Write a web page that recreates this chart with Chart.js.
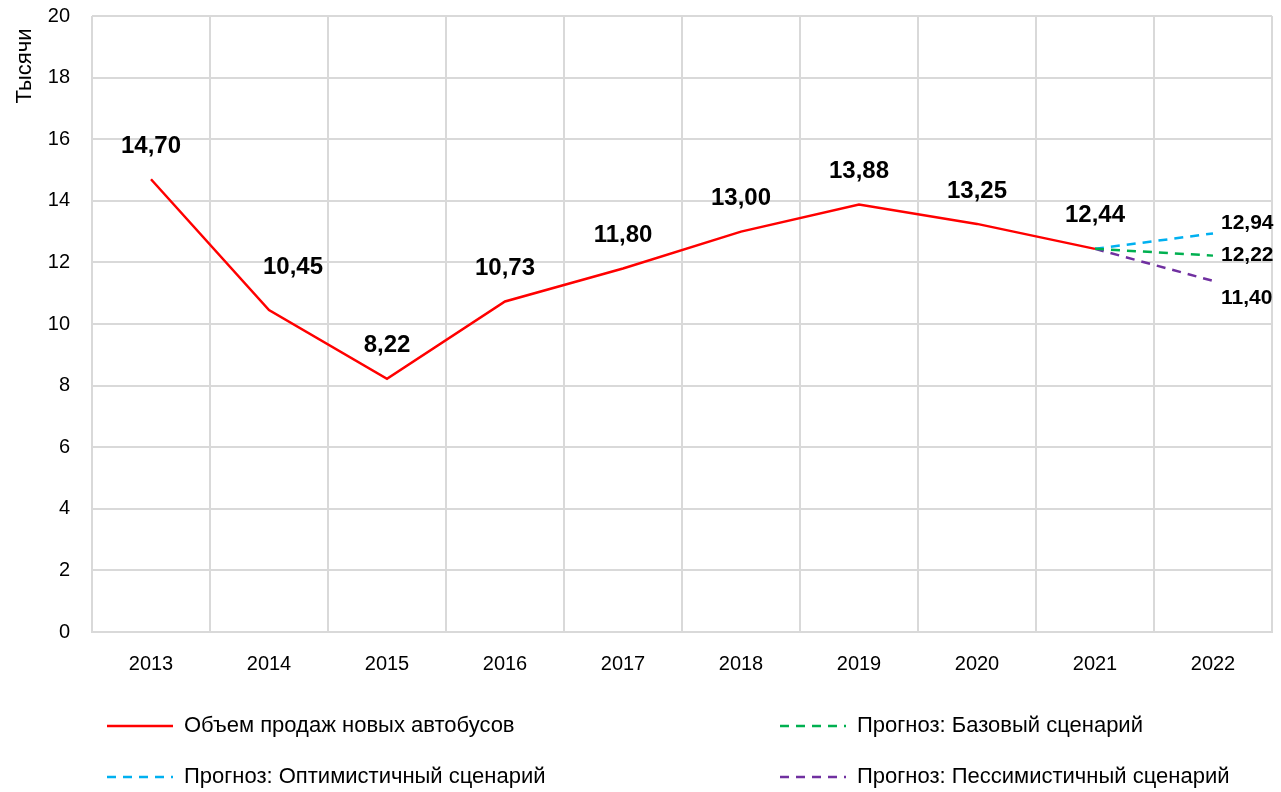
<!DOCTYPE html>
<html>
<head>
<meta charset="utf-8">
<script src="https://cdn.jsdelivr.net/npm/chart.js@4"></script>
<style>
  html, body { margin: 0; padding: 0; background: #fff; }
  #wrap { width: 1281px; height: 792px; }
</style>
</head>
<body>
<div id="wrap"><canvas id="mychart" width="1281" height="792"></canvas></div>
<script>
// data
var years = ['2013', '2014', '2015', '2016', '2017', '2018', '2019', '2020', '2021', '2022'];
var sales = [14.70, 10.45, 8.22, 10.73, 11.80, 13.00, 13.88, 13.25, 12.44, null];
var baseCase = [null, null, null, null, null, null, null, null, 12.44, 12.22];
var optimistic = [null, null, null, null, null, null, null, null, 12.44, 12.94];
var pessimistic = [null, null, null, null, null, null, null, null, 12.44, 11.40];
var yTicks = [0, 2, 4, 6, 8, 10, 12, 14, 16, 18, 20];

var krasny = '#ff0000';
var zeleny = '#00b050';
var goluboy = '#00b0f0';
var fiolet = '#7030a0';
var setka = '#d9d9d9';
var font = '"Liberation Sans", Arial, sans-serif';

function fmt(v) {
  return v.toFixed(2).replace('.', ',');
}

// labels + legend + axis title drawn on top
var extras = {
  id: 'extras',
  afterDatasetsDraw: function (chart) {
    var c = chart.ctx;
    c.save();
    c.fillStyle = '#000';
    c.textAlign = 'center';
    c.textBaseline = 'middle';

    // main series labels
    c.font = 'bold 24px ' + font;
    var m0 = chart.getDatasetMeta(0);
    m0.data.forEach(function (pt, i) {
      if (sales[i] == null) return;
      var dx = 0, dy = -33;
      if (i == 1) { dx = 24; dy = -43; }
      c.fillText(fmt(sales[i]), pt.x + dx, pt.y + dy);
    });

    // forecast labels
    c.font = 'bold 21px ' + font;
    c.textAlign = 'left';
    var last = years.length - 1;
    var fc = [[2, optimistic, -10], [1, baseCase, 0], [3, pessimistic, 17]];
    fc.forEach(function (f) {
      var pt = chart.getDatasetMeta(f[0]).data[last];
      c.fillText(fmt(f[1][last]), pt.x + 8, pt.y + f[2]);
    });

    // y title
    c.save();
    c.translate(25, 66);
    c.rotate(-Math.PI / 2);
    c.textAlign = 'center';
    c.font = '22px ' + font;
    c.fillText('Тысячи', 0, 0);
    c.restore();

    // legend
    var items = [
      [0, 107, 726], [1, 780, 726],
      [2, 107, 777], [3, 780, 777]
    ];
    c.font = '22px ' + font;
    c.textAlign = 'left';
    items.forEach(function (it) {
      var ds = chart.data.datasets[it[0]];
      c.beginPath();
      c.strokeStyle = ds.borderColor;
      c.lineWidth = 2.5;
      c.setLineDash(ds.borderDash || []);
      c.moveTo(it[1], it[2]);
      c.lineTo(it[1] + 66, it[2]);
      c.stroke();
      c.setLineDash([]);
      c.fillText(ds.label, it[1] + 77, it[2]);
    });
    c.restore();
  }
};

var ctx = document.getElementById('mychart').getContext('2d');
var myChart = new Chart(ctx, {
  type: 'line',
  data: {
    labels: years,
    datasets: [{
      label: 'Объем продаж новых автобусов',
      data: sales,
      borderColor: krasny,
      borderWidth: 2.5,
      pointRadius: 0
    }, {
      label: 'Прогноз: Базовый сценарий',
      data: baseCase,
      borderColor: zeleny,
      borderWidth: 2.5,
      borderDash: [9, 7],
      pointRadius: 0
    }, {
      label: 'Прогноз: Оптимистичный сценарий',
      data: optimistic,
      borderColor: goluboy,
      borderWidth: 2.5,
      borderDash: [9, 7],
      pointRadius: 0
    }, {
      label: 'Прогноз: Пессимистичный сценарий',
      data: pessimistic,
      borderColor: fiolet,
      borderWidth: 2.5,
      borderDash: [9, 7],
      pointRadius: 0
    }]
  },
  options: {
    responsive: false,
    animation: false,
    layout: { padding: { top: 16, right: 9, left: 0, bottom: 0 } },
    plugins: {
      legend: { display: false },
      tooltip: { enabled: false }
    },
    scales: {
      x: {
        offset: true,
        grid: { color: setka, lineWidth: 2, offset: true, drawTicks: false },
        border: { color: setka, width: 2 },
        ticks: { color: '#000', font: { family: font, size: 20 }, padding: 20 },
        afterFit: function (s) { s.height = 160; }
      },
      y: {
        min: 0,
        max: 20,
        afterBuildTicks: function (s) { s.ticks = yTicks.map(function (v) { return { value: v }; }); },
        grid: { color: setka, lineWidth: 2, drawTicks: false },
        border: { display: false },
        ticks: { color: '#000', font: { family: font, size: 20 }, padding: 22 },
        afterFit: function (s) { s.width = 92; s.paddingTop = 0; s.paddingBottom = 0; }
      }
    }
  },
  plugins: [extras]
});
</script>
</body>
</html>
